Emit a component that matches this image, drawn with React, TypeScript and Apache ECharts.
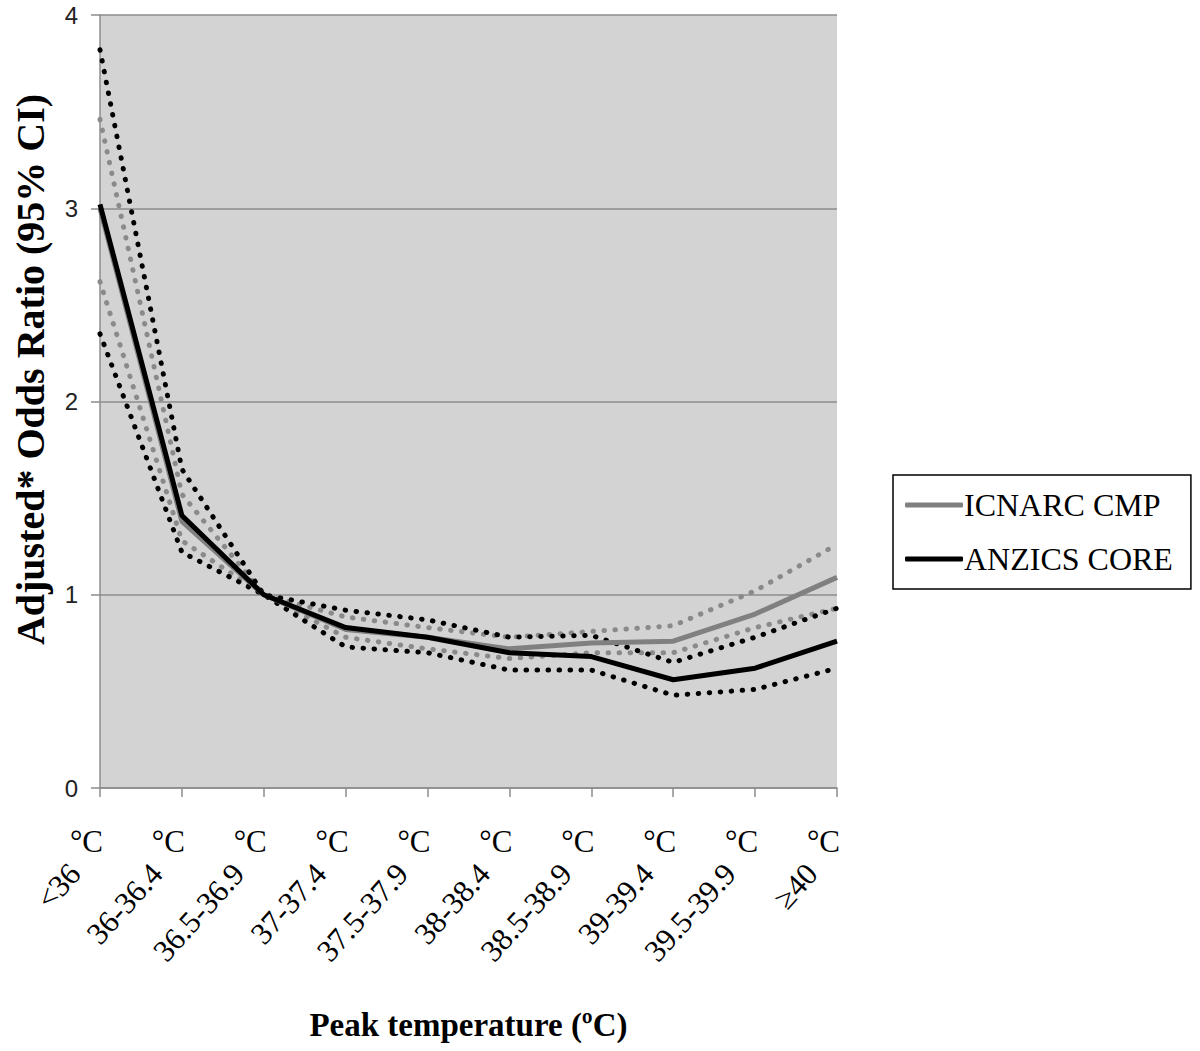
import React, { useEffect, useRef } from "react";
import * as echarts from "echarts";

const categories = [
  "<36 °C",
  "36-36.4 °C",
  "36.5-36.9 °C",
  "37-37.4 °C",
  "37.5-37.9 °C",
  "38-38.4 °C",
  "38.5-38.9 °C",
  "39-39.4 °C",
  "39.5-39.9 °C",
  "≥40 °C",
];

const icnarc = [3.0, 1.38, 1.0, 0.82, 0.78, 0.72, 0.75, 0.76, 0.9, 1.09];
const icnarcUpper = [3.46, 1.52, 1.0, 0.885, 0.83, 0.78, 0.81, 0.84, 1.02, 1.26];
const icnarcLower = [2.62, 1.28, 1.0, 0.78, 0.72, 0.67, 0.7, 0.7, 0.83, 0.93];
const anzics = [3.02, 1.41, 1.0, 0.83, 0.78, 0.7, 0.68, 0.56, 0.62, 0.76];
const anzicsUpper = [3.82, 1.65, 1.0, 0.92, 0.87, 0.78, 0.79, 0.65, 0.78, 0.93];
const anzicsLower = [2.35, 1.22, 1.0, 0.73, 0.7, 0.61, 0.61, 0.48, 0.51, 0.62];

const yTicks = [0, 1, 2, 3, 4];

const GRAY = "#808080";
const DOT_GRAY = "#8a8a8a";
const BLACK = "#000000";
const AXIS_GRAY = "#8c8c8c";
const SERIF = "'Liberation Serif', 'Times New Roman', serif";

const splitLabel = (v: string) => {
  const i = v.indexOf(" °");
  return i >= 0 ? [v.slice(0, i), v.slice(i + 1)] : [v, ""];
};

export default function App() {
  const ref = useRef<HTMLDivElement>(null);

  useEffect(() => {
    document.body.style.margin = "0";
    if (!ref.current) return;
    const chart = echarts.init(ref.current, null, { renderer: "svg" });

    const dotted = (name: string, data: number[], color: string) => ({
      name,
      type: "line",
      data,
      symbol: "none",
      z: 2,
      lineStyle: { color, width: 5, type: [0.5, 10.5], cap: "round" },
      silent: true,
    });

    chart.setOption({
      animation: false,
      backgroundColor: "#ffffff",
      grid: {
        left: 100,
        right: 363,
        top: 15,
        bottom: 263,
        show: true,
        backgroundColor: "#d3d3d3",
        borderWidth: 0,
        containLabel: false,
        outerBoundsMode: "none",
      },
      legend: {
        data: ["ICNARC CMP", "ANZICS CORE"],
        orient: "vertical",
        left: 893,
        top: 475,
        width: 300,
        borderColor: "#000",
        borderWidth: 1.5,
        padding: [14, 18, 14, 12],
        itemGap: 22,
        itemWidth: 58,
        itemHeight: 5,
        icon: "roundRect",
        textStyle: { fontFamily: SERIF, fontSize: 32, color: "#000", padding: [0, 0, 0, -4] },
      },
      xAxis: [
        {
          type: "category",
          data: categories,
          boundaryGap: false,
          name: "Peak temperature (ºC)",
          nameLocation: "middle",
          nameGap: 220,
          nameTextStyle: { fontFamily: SERIF, fontSize: 33, fontWeight: "bold", color: "#000" },
          axisLine: { lineStyle: { color: AXIS_GRAY, width: 1.5 } },
          axisTick: { alignWithLabel: true, length: 9, lineStyle: { color: AXIS_GRAY, width: 1.5 } },
          axisLabel: {
            rotate: 48,
            margin: 52,
            interval: 0,
            padding: [0, 38, 0, 0],
            fontFamily: SERIF,
            fontSize: 31,
            color: "#000",
            formatter: (v: string) => splitLabel(v)[0],
          },
          splitLine: { show: false },
        },
        {
          type: "category",
          data: categories,
          boundaryGap: false,
          position: "bottom",
          axisLine: { show: false },
          axisTick: { show: false },
          axisLabel: {
            rotate: 0,
            margin: 38,
            interval: 0,
            align: "right",
            padding: [0, -3, 0, 0],
            fontFamily: SERIF,
            fontSize: 31,
            color: "#000",
            formatter: (v: string) => splitLabel(v)[1],
          },
          splitLine: { show: false },
        },
      ],
      yAxis: {
        type: "value",
        min: yTicks[0],
        max: yTicks[yTicks.length - 1],
        interval: 1,
        name: "Adjusted* Odds Ratio (95% CI)",
        nameLocation: "middle",
        nameGap: 50,
        nameTextStyle: {
          fontFamily: SERIF,
          fontSize: 40,
          fontWeight: "bold",
          color: "#000",
          padding: [0, 0, 0, 64],
        },
        axisLine: { show: true, lineStyle: { color: AXIS_GRAY, width: 1.5 } },
        axisTick: { show: true, length: 9, lineStyle: { color: AXIS_GRAY, width: 1.5 } },
        axisLabel: {
          margin: 22,
          fontFamily: "'Liberation Sans', Arial, sans-serif",
          fontSize: 24,
          color: "#222",
        },
        splitLine: { show: true, lineStyle: { color: AXIS_GRAY, width: 1.5 } },
      },
      series: [
        dotted("ICNARC upper", icnarcUpper, DOT_GRAY),
        dotted("ICNARC lower", icnarcLower, DOT_GRAY),
        {
          name: "ICNARC CMP",
          type: "line",
          data: icnarc,
          symbol: "none",
          z: 3,
          lineStyle: { color: GRAY, width: 5 },
          itemStyle: { color: GRAY },
        },
        dotted("ANZICS upper", anzicsUpper, BLACK),
        dotted("ANZICS lower", anzicsLower, BLACK),
        {
          name: "ANZICS CORE",
          type: "line",
          data: anzics,
          symbol: "none",
          z: 4,
          lineStyle: { color: BLACK, width: 5 },
          itemStyle: { color: BLACK },
        },
      ],
    });

    return () => chart.dispose();
  }, []);

  return <div ref={ref} style={{ width: 1200, height: 1051 }} />;
}
